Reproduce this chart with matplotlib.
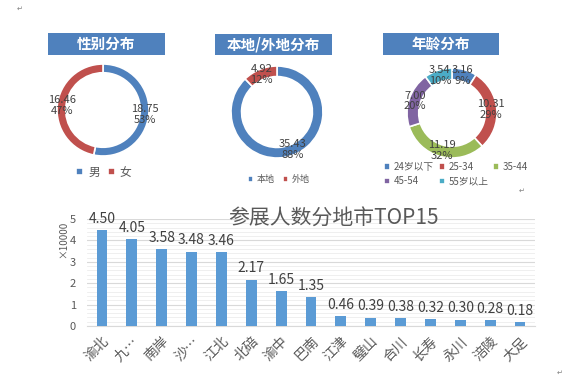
import matplotlib
matplotlib.use("Agg")
import matplotlib.pyplot as plt
from matplotlib.patches import Rectangle
from matplotlib.ticker import MultipleLocator

plt.rcParams['font.family'] = ['Noto Sans CJK SC', 'DejaVu Sans']

# ---------------- data ----------------
gender_labels = ['男', '女']
gender_values = [18.75, 16.46]

origin_labels = ['本地', '外地']
origin_values = [35.43, 4.92]

age_labels = ['24岁以下', '25-34', '35-44', '45-54', '55岁以上']
age_values = [3.16, 10.31, 11.19, 7.00, 3.54]

cities = ['渝北', '九…', '南岸', '沙…', '江北', '北碚', '渝中', '巴南',
          '江津', '璧山', '合川', '长寿', '永川', '涪陵', '大足']
city_values = [4.50, 4.05, 3.58, 3.48, 3.46, 2.17, 1.65, 1.35,
               0.46, 0.39, 0.38, 0.32, 0.30, 0.28, 0.18]

donut_titles = ['性别分布', '本地/外地分布', '年龄分布']
bar_title = '参展人数分地市TOP15'
y_axis_label = '×10000'

# ---------------- styling ----------------
W, H = 580, 385
fig = plt.figure(figsize=(W / 100, H / 100), dpi=100)
fig.patch.set_facecolor('white')

BLUE = '#4F81BD'
RED = '#C0504D'
GREEN = '#9BBB59'
PURPLE = '#8064A2'
AQUA = '#4BACC6'
BAR = '#5B9BD5'
TXT = '#404040'
GRAY = '#595959'


def px_axes(x0, y0, x1, y1):
    return fig.add_axes([x0 / W, 1 - y1 / H, (x1 - x0) / W, (y1 - y0) / H])


def title_box(x0, y0, x1, y1, text):
    fig.patches.append(Rectangle((x0 / W, 1 - y1 / H), (x1 - x0) / W, (y1 - y0) / H,
                                 transform=fig.transFigure, facecolor=BLUE,
                                 edgecolor='none', zorder=1))
    fig.text((x0 + x1) / 2 / W, 1 - (y0 + y1) / 2 / H, text, color='white',
             fontsize=10.5, fontweight='heavy', ha='center', va='center', zorder=2)


def donut(cx, cy, r, values, colors, width):
    ax = px_axes(cx - r, cy - r, cx + r, cy + r)
    total = sum(values)
    wedges, _, autotexts = ax.pie(
        values, colors=colors, startangle=90, counterclock=False, radius=1,
        autopct=lambda p: f"{p * total / 100:.2f}\n{p:.0f}%",
        pctdistance=1 - width / 2,
        wedgeprops=dict(width=width, edgecolor='white', linewidth=1.2),
        textprops=dict(color=TXT, fontsize=8, linespacing=1.1))
    ax.set_xlim(-1, 1)
    ax.set_ylim(-1, 1)
    ax.set_aspect('equal')
    ax.axis('off')
    return wedges


# Donut 1: gender
title_box(48, 33, 165, 55, donut_titles[0])
w1 = donut(103, 110, 46, gender_values, [BLUE, RED], 0.19)
fig.legend(w1, gender_labels, loc='center', bbox_to_anchor=(104 / W, 1 - 172 / H),
           bbox_transform=fig.transFigure, ncol=2, frameon=False,
           handlelength=0.6, handleheight=0.6, handletextpad=0.4,
           columnspacing=0.7, fontsize=8.5, labelcolor=GRAY, borderpad=0)

# Donut 2: origin
title_box(215, 34, 332, 55, donut_titles[1])
w2 = donut(277, 112, 46, origin_values, [BLUE, RED], 0.23)
fig.legend(w2, origin_labels, loc='center', bbox_to_anchor=(279 / W, 1 - 180 / H),
           bbox_transform=fig.transFigure, ncol=2, frameon=False,
           handlelength=0.6, handleheight=0.6, handletextpad=0.4,
           columnspacing=0.9, fontsize=6.5, labelcolor=GRAY, borderpad=0)

# Donut 3: age
title_box(383, 33, 499, 55, donut_titles[2])
w3 = donut(452, 113, 45, age_values, [BLUE, RED, GREEN, PURPLE, AQUA], 0.26)
order = [0, 3, 1, 4, 2]
fig.legend([w3[i] for i in order], [age_labels[i] for i in order], loc='upper left',
           bbox_to_anchor=(384 / W, 1 - 162 / H), bbox_transform=fig.transFigure,
           ncol=3, frameon=False, handlelength=0.6, handleheight=0.6,
           handletextpad=0.4, columnspacing=0.5, fontsize=7, labelcolor=GRAY,
           borderaxespad=0, borderpad=0, labelspacing=0.45)

# ---------------- bar chart ----------------
ax = px_axes(87, 219, 535, 326)
x = list(range(len(cities)))
ax.bar(x, city_values, width=0.36, color=BAR, zorder=3)
ax.set_xlim(-0.5, len(cities) - 0.5)
ax.set_ylim(0, 5)
ax.yaxis.set_major_locator(MultipleLocator(1))
ax.yaxis.set_minor_locator(MultipleLocator(0.2))
ax.grid(axis='y', which='major', color='#D9D9D9', linewidth=0.8, zorder=0)
ax.grid(axis='y', which='minor', color='#EDEDED', linewidth=0.6, zorder=0)
for s in ['top', 'right', 'left']:
    ax.spines[s].set_visible(False)
ax.spines['bottom'].set_color('#D9D9D9')
ax.tick_params(axis='both', which='both', length=0)
ax.tick_params(axis='y', labelsize=8, labelcolor=GRAY, pad=8)
ax.set_xticks(x)
ax.set_xticklabels(cities, rotation=45, ha='right', rotation_mode='anchor',
                   fontsize=10, color=GRAY)
ax.tick_params(axis='x', pad=6)
ax.set_facecolor('none')
for xi, v in zip(x, city_values):
    ax.annotate(f"{v:.2f}", (xi, v), xytext=(0, 3), textcoords='offset points',
                ha='center', va='bottom', fontsize=10, color=TXT)

fig.text(63 / W, 1 - 239 / H, y_axis_label, rotation=90, ha='center', va='center',
         fontsize=7, color=GRAY)
fig.text(333 / W, 1 - 219 / H, bar_title, ha='center', va='center',
         fontsize=15, color=GRAY)

# paragraph marks
for (px, py) in [(20, 9), (522, 191), (560, 373)]:
    fig.text(px / W, 1 - py / H, '↵', fontsize=5, color='#808080',
             ha='center', va='center', family='DejaVu Sans')

fig.savefig('out.png', dpi=100, facecolor='white')
